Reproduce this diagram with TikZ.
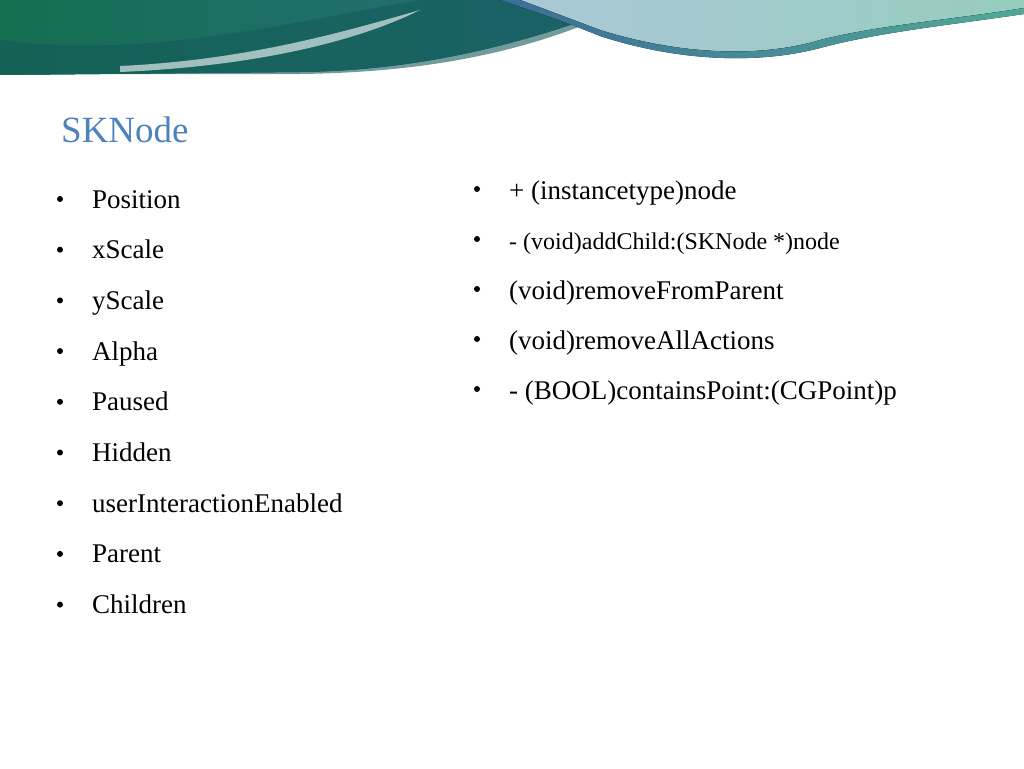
\documentclass[tikz,border=0pt]{standalone}
\usepackage{fontspec}
\setmainfont{Liberation Serif}
\definecolor{bA}{RGB}{20,110,80}
\definecolor{bB}{RGB}{40,110,130}
\definecolor{bC}{RGB}{20,90,90}
\definecolor{bD}{RGB}{170,200,215}
\definecolor{bE}{RGB}{150,205,190}
\definecolor{bF}{RGB}{60,110,150}
\definecolor{bG}{RGB}{80,170,150}
\definecolor{titleblue}{RGB}{79,129,189}
\begin{document}
\begin{tikzpicture}[x=1pt,y=-1pt,
  item/.style={anchor=base west,font=\fontsize{27}{30}\selectfont,text=black,inner sep=0},
  ritem/.style={anchor=base west,text=black,inner sep=0},
  bul/.style={anchor=center,fill=black,circle,inner sep=0,minimum size=6pt}]
\useasboundingbox (0,0) rectangle (1024,768);
% banner
\fill[left color=bA, right color=bB]
  (0,0) -- (640,0) .. controls (560,30) and (450,70) .. (300,72) -- (0,75) -- cycle;
\fill[bC,opacity=0.6] (0,40) .. controls (150,60) and (300,20) .. (420,0) -- (640,0) .. controls (560,40) and (460,72) .. (300,74) -- (0,74) -- cycle;
\fill[white,opacity=0.6] (120,66) .. controls (250,60) and (350,30) .. (420,10) .. controls (360,40) and (260,66) .. (120,72) -- cycle;
\fill[left color=bD, right color=bE]
  (600,0) -- (1024,0) -- (1024,8) .. controls (950,20) and (880,25) .. (820,40) .. controls (760,58) and (680,55) .. (600,30) .. controls (560,15) .. (520,0) -- cycle;
\fill[left color=bF, right color=bG]
  (520,0) .. controls (560,15) .. (600,30) .. controls (680,55) and (760,58) .. (820,40) .. controls (880,25) and (950,20) .. (1024,8) -- (1024,14) .. controls (950,25) and (880,32) .. (820,48) .. controls (760,64) and (680,62) .. (600,36) .. controls (560,20) .. (500,0) -- cycle;
% title
\node[anchor=base west,inner sep=0,text=titleblue,font=\fontsize{37}{42}\selectfont] (title) at (61,142) {SKNode};
% left list
\foreach \t [count=\i] in {Position,xScale,yScale,Alpha,Paused,Hidden,userInteractionEnabled,Parent,Children}{
  \node[bul] (lb\i) at (60,{199+50.7*(\i-1)}) {};
  \node[item] (l\i) at (92,{208+50.7*(\i-1)}) {\t};
}
% right list
\foreach \t/\s [count=\i] in {+ (instancetype)node/27,- (void)addChild:(SKNode *)node/24,(void)removeFromParent/27,(void)removeAllActions/27,- (BOOL)containsPoint:(CGPoint)p/27}{
  \node[bul] (rb\i) at (477,{189+50*(\i-1)}) {};
  \node[ritem,font=\fontsize{\s}{30}\selectfont] (r\i) at (509,{199+50*(\i-1)}) {\t};
}
\end{tikzpicture}
\end{document}
